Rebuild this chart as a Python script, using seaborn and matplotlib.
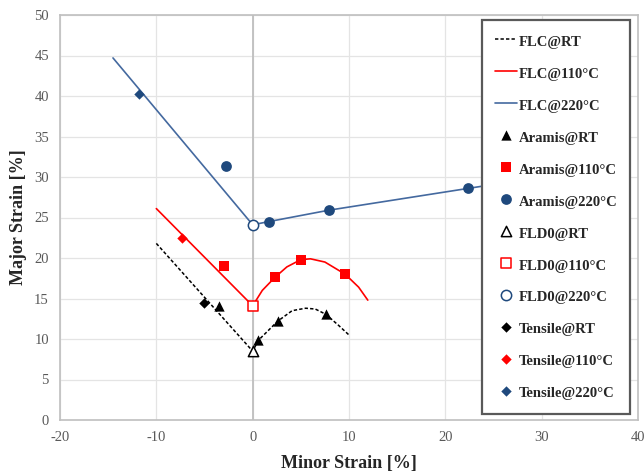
import matplotlib
matplotlib.use("Agg")
import matplotlib.pyplot as plt
import seaborn as sns

# Forming limit curves (minor strain %, major strain %)
flc_rt_x = [-10.0, 0.0, 0.6, 2.6, 4.1, 5.5, 6.5, 7.6, 8.9, 9.95]
flc_rt_y = [21.8, 8.5, 9.85, 12.2, 13.5, 13.8, 13.7, 13.05, 11.7, 10.55]
flc_110_x = [-10.0, 0.0, 1.0, 2.3, 3.55, 5.0, 6.0, 7.5, 9.6, 11.0, 11.95]
flc_110_y = [26.1, 14.1, 16.0, 17.6, 18.9, 19.8, 19.9, 19.5, 18.0, 16.4, 14.8]
flc_220_x = [-14.5, 0.0, 1.7, 7.9, 22.4, 30.0]
flc_220_y = [44.7, 24.1, 24.5, 25.9, 28.6, 30.0]

# Aramis measurements
aramis_rt_x = [-3.5, 0.6, 2.6, 7.6]
aramis_rt_y = [14.1, 9.85, 12.2, 13.05]
aramis_110_x = [-3.0, 2.3, 5.0, 9.6]
aramis_110_y = [19.0, 17.6, 19.8, 18.0]
aramis_220_x = [-2.8, 1.7, 7.9, 22.4]
aramis_220_y = [31.3, 24.5, 25.9, 28.6]

# Plane-strain intercepts FLD0
fld0_x = [0.0, 0.0, 0.0]
fld0_y = [8.5, 14.1, 24.1]

# Tensile test results
tensile_x = [-5.1, -7.3, -11.8]
tensile_y = [14.4, 22.5, 40.2]

x_ticks = [-20, -10, 0, 10, 20, 30, 40]
y_ticks = [0, 5, 10, 15, 20, 25, 30, 35, 40, 45, 50]

BLACK = "#000000"
RED = "#ff0000"
BLUE_LINE = "#44699f"
BLUE = "#1f497d"

sns.set_style("white")
plt.rcParams["font.family"] = ["Liberation Serif", "DejaVu Serif"]

fig = plt.figure(figsize=(6.44, 4.75), dpi=100)
ax = fig.add_axes([60 / 644, 1 - 420 / 475, 578 / 644, 405 / 475])

ax.axvline(0, color="#bfbfbf", lw=1.3, zorder=1)

sns.lineplot(x=flc_rt_x, y=flc_rt_y, sort=False, estimator=None, ax=ax,
             color=BLACK, lw=1.1, linestyle=(0, (2.2, 1.4)), label="FLC@RT", zorder=3)
sns.lineplot(x=flc_110_x, y=flc_110_y, sort=False, estimator=None, ax=ax,
             color=RED, lw=1.2, label="FLC@110°C", zorder=3)
sns.lineplot(x=flc_220_x, y=flc_220_y, sort=False, estimator=None, ax=ax,
             color=BLUE_LINE, lw=1.2, label="FLC@220°C", zorder=3)

sns.scatterplot(x=aramis_rt_x, y=aramis_rt_y, ax=ax, marker="^", s=55,
                color=BLACK, edgecolor=BLACK, linewidth=0, label="Aramis@RT", zorder=4)
sns.scatterplot(x=aramis_110_x, y=aramis_110_y, ax=ax, marker="s", s=50,
                color=RED, edgecolor=RED, linewidth=0, label="Aramis@110°C", zorder=4)
sns.scatterplot(x=aramis_220_x, y=aramis_220_y, ax=ax, marker="o", s=60,
                color=BLUE, edgecolor=BLUE, linewidth=0, label="Aramis@220°C", zorder=4)

fld0_colors = [BLACK, RED, BLUE]
fld0_markers = ["^", "s", "o"]
fld0_labels = ["FLD0@RT", "FLD0@110°C", "FLD0@220°C"]
for xv, yv, c, m, lab in zip(fld0_x, fld0_y, fld0_colors, fld0_markers, fld0_labels):
    sns.scatterplot(x=[xv], y=[yv], ax=ax, marker=m, s=55, facecolor="white",
                    edgecolor=c, linewidth=1.1, label=lab, zorder=5)

tensile_colors = [BLACK, RED, BLUE]
tensile_labels = ["Tensile@RT", "Tensile@110°C", "Tensile@220°C"]
for xv, yv, c, lab in zip(tensile_x, tensile_y, tensile_colors, tensile_labels):
    sns.scatterplot(x=[xv], y=[yv], ax=ax, marker="D", s=28, color=c,
                    edgecolor=c, linewidth=0, label=lab, zorder=5)

ax.set_xlim(-20, 40)
ax.set_ylim(0, 50)
ax.set_xticks(x_ticks)
ax.set_yticks(y_ticks)
ax.set_xticklabels([str(v) for v in x_ticks])
ax.set_yticklabels([str(v) for v in y_ticks])
ax.grid(True, color="#e4e4e4", lw=0.9)
ax.set_axisbelow(True)
for sp in ax.spines.values():
    sp.set_color("#bfbfbf")
    sp.set_linewidth(1.2)
ax.tick_params(length=0, labelsize=10.5, labelcolor="#595959", pad=8)

ax.set_xlabel("Minor Strain [%]", fontsize=13, fontweight="bold", labelpad=8)
ax.set_ylabel("Major Strain [%]", fontsize=13, fontweight="bold", labelpad=5)

handles, labels = ax.get_legend_handles_labels()
leg = ax.legend(handles, labels, loc="upper right", bbox_to_anchor=(0.986, 0.988),
                frameon=True, fancybox=False, framealpha=1.0,
                prop={"weight": "bold", "size": 10.5},
                labelspacing=0.97, handlelength=1.5, handleheight=1.5,
                handletextpad=0.15, borderpad=0.85, borderaxespad=0)
leg.set_zorder(10)
leg.get_frame().set_edgecolor("#595959")
leg.get_frame().set_linewidth(1.6)
for t in leg.get_texts():
    t.set_color("#262626")

fig.savefig("out.png", dpi=100)
